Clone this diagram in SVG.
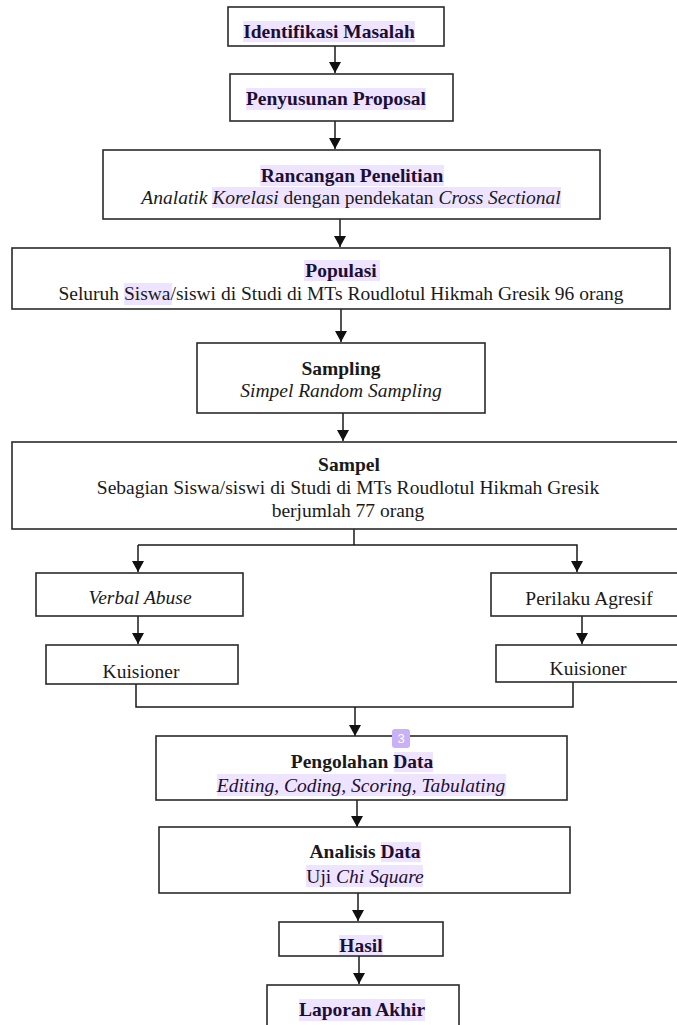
<svg xmlns="http://www.w3.org/2000/svg" width="677" height="1025" viewBox="0 0 677 1025">
<defs>
<marker id="ah" markerUnits="userSpaceOnUse" markerWidth="11" markerHeight="12" refX="11" refY="6" orient="auto"><path d="M0,0 L11,6 L0,12 z" fill="#111"/></marker>
<style>
.box{fill:#fff;stroke:#2a2a2a;stroke-width:1.6}
.hl{fill:#efe4ff}
text{font-family:"Liberation Serif","Times New Roman",serif;font-size:19.5px;fill:#1a1a1a;text-anchor:middle}
.b{font-weight:bold}
.i{font-style:italic}
.h{fill:#1c0f33}
.ln{fill:none;stroke:#1a1a1a;stroke-width:1.5}
.ar{fill:none;stroke:#1a1a1a;stroke-width:1.5;marker-end:url(#ah)}
.badge{fill:#c9b1f7}
.bt{font-family:"Liberation Sans",Arial,sans-serif;font-size:13px;fill:#fff}
</style>
</defs>
<rect width="677" height="1025" fill="#fff"/>
<g id="connectors">
<line class="ar" x1="335" y1="46" x2="335" y2="73"/>
<line class="ar" x1="335" y1="121" x2="335" y2="149"/>
<line class="ar" x1="340" y1="219" x2="340" y2="247"/>
<line class="ar" x1="341" y1="309" x2="341" y2="342"/>
<line class="ar" x1="343" y1="413" x2="343" y2="441"/>
<polyline class="ln" points="354,529 354,545"/>
<polyline class="ar" points="138,545 577,545 577,572"/>
<line class="ar" x1="138" y1="545" x2="138" y2="572"/>
<line class="ar" x1="138" y1="616" x2="138" y2="644"/>
<line class="ar" x1="582" y1="616" x2="582" y2="644"/>
<polyline class="ln" points="136,684 136,707 573,707 573,682"/>
<line class="ar" x1="355" y1="707" x2="355" y2="736"/>
<line class="ar" x1="357" y1="800" x2="357" y2="827"/>
<line class="ar" x1="358" y1="893" x2="358" y2="921"/>
<line class="ar" x1="359" y1="956" x2="359" y2="984"/>
</g>
<g id="n1">
<rect class="box" x="228" y="7" width="216" height="39"/>
<rect class="hl" x="243" y="21" width="172" height="21"/>
<text class="b h" x="329" y="38">Identifikasi Masalah</text>
</g>
<g id="n2">
<rect class="box" x="230" y="74" width="223" height="47"/>
<rect class="hl" x="246" y="88" width="180" height="22"/>
<text class="b h" x="336" y="105">Penyusunan Proposal</text>
</g>
<g id="n3">
<rect class="box" x="103" y="150" width="497" height="69"/>
<rect class="hl" x="260" y="165" width="184" height="21"/>
<rect class="hl" x="212" y="187" width="349" height="21"/>
<text class="b h" x="352" y="182">Rancangan Penelitian</text>
<text x="351" y="204"><tspan class="i">Analatik Korelasi</tspan> dengan pendekatan <tspan class="i">Cross Sectional</tspan></text>
</g>
<g id="n4">
<rect class="box" x="12" y="248" width="658" height="61"/>
<rect class="hl" x="304" y="260" width="76" height="21"/>
<rect class="hl" x="124" y="283" width="48" height="22"/>
<text class="b h" x="341" y="277">Populasi</text>
<text x="341" y="300">Seluruh Siswa/siswi di Studi di MTs Roudlotul Hikmah Gresik 96 orang</text>
</g>
<g id="n5">
<rect class="box" x="197" y="343" width="288" height="70"/>
<text class="b" x="341" y="375">Sampling</text>
<text class="i" x="341" y="397">Simpel Random Sampling</text>
</g>
<g id="n6">
<rect class="box" x="12" y="442" width="680" height="87"/>
<text class="b" x="349" y="471">Sampel</text>
<text x="348" y="494">Sebagian Siswa/siswi di Studi di MTs Roudlotul Hikmah Gresik</text>
<text x="348" y="517">berjumlah 77 orang</text>
</g>
<g id="n7">
<rect class="box" x="36" y="573" width="207" height="43"/>
<text class="i" x="140" y="604">Verbal Abuse</text>
</g>
<g id="n8">
<rect class="box" x="46" y="645" width="192" height="39"/>
<text x="141" y="678">Kuisioner</text>
</g>
<g id="n9">
<rect class="box" x="491" y="573" width="200" height="43"/>
<text x="589" y="605">Perilaku Agresif</text>
</g>
<g id="n10">
<rect class="box" x="496" y="645" width="195" height="37"/>
<text x="588" y="675">Kuisioner</text>
</g>
<g id="n11">
<rect class="box" x="156" y="736" width="411" height="64"/>
<rect class="hl" x="394" y="752" width="39" height="20"/>
<rect class="hl" x="217" y="774" width="289" height="22"/>
<text class="b" x="362" y="768">Pengolahan <tspan class="h">Data</tspan></text>
<text class="i h" x="361" y="792">Editing, Coding, Scoring, Tabulating</text>
<rect class="badge" x="392" y="729" width="18" height="19" rx="3"/>
<text class="bt" x="401" y="743">3</text>
</g>
<g id="n12">
<rect class="box" x="159" y="827" width="411" height="66"/>
<rect class="hl" x="381" y="842" width="40" height="20"/>
<rect class="hl" x="306" y="865" width="117" height="22"/>
<text class="b" x="365" y="858">Analisis <tspan class="h">Data</tspan></text>
<text class="h" x="365" y="883">Uji <tspan class="i">Chi Square</tspan></text>
</g>
<g id="n13">
<rect class="box" x="279" y="922" width="164" height="34"/>
<rect class="hl" x="339" y="935" width="44" height="20"/>
<text class="b h" x="361" y="952">Hasil</text>
</g>
<g id="n14">
<rect class="box" x="267" y="985" width="192" height="50"/>
<rect class="hl" x="299" y="999" width="126" height="22"/>
<text class="b h" x="362" y="1016">Laporan Akhir</text>
</g>
</svg>
